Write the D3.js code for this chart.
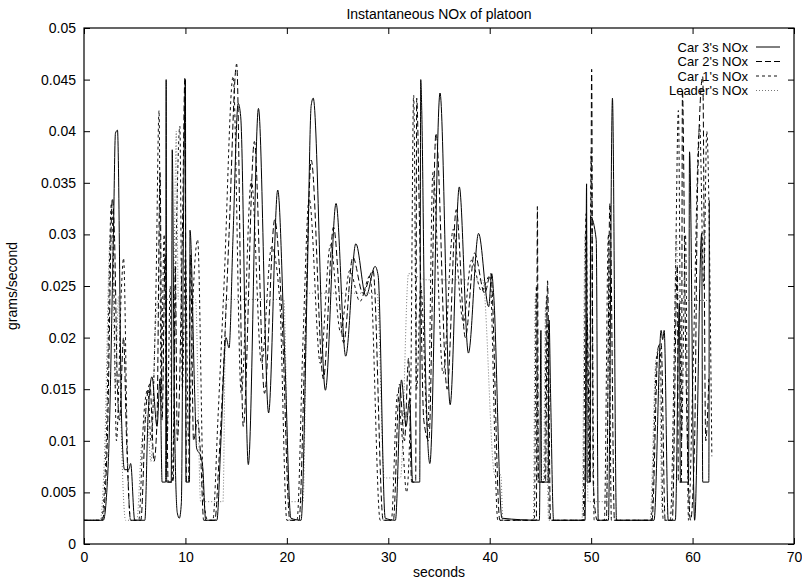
<!DOCTYPE html>
<html>
<head>
<meta charset="utf-8">
<script src="https://cdn.jsdelivr.net/npm/d3@7"></script>
<style>
  body { margin: 0; background: #fff; }
  svg { display: block; font-family: "Liberation Sans", Arial, sans-serif; }
  .tick-label { font-size: 14px; fill: #000; }
</style>
</head>
<body>
<div id="chart"></div>
<script>
const chartTitle = 'Instantaneous NOx of platoon';
const xTicks = [0, 10, 20, 30, 40, 50, 60, 70];
const yTicks = [0, 0.005, 0.01, 0.015, 0.02, 0.025, 0.03, 0.035, 0.04, 0.045, 0.05];

// [seconds, grams/second]
const car3 = [[0,0.0023],[1.9,0.0023],[2.4,0.008],[2.9,0.030],[3.1,0.0398],[3.3,0.0401],[3.7,0.0122],[4.0,0.0072],[4.4,0.0072],[4.6,0.0078],[5.0,0.0023],[6.0,0.0023],[6.3,0.012],[6.7,0.0162],[7.2,0.0114],[7.5,0.016],[7.7,0.006],[8.05,0.006],[8.1,0.045],[8.15,0.006],[8.6,0.006],[8.7,0.0382],[8.9,0.014],[9.2,0.003],[9.4,0.0025],[9.6,0.004],[9.8,0.030],[10.0,0.045],[10.05,0.006],[10.4,0.006],[10.45,0.0304],[10.9,0.015],[11.1,0.0093],[11.5,0.0085],[11.7,0.0075],[12.0,0.0023],[13.1,0.0023],[13.5,0.010],[14.0,0.020],[14.3,0.019],[14.7,0.030],[15.2,0.0427],[15.45,0.0414],[16.2,0.0077],[17.2,0.0422],[18.2,0.0127],[19.1,0.0343],[19.8,0.018],[20.4,0.0025],[21.4,0.0023],[22.0,0.025],[22.4,0.0425],[22.6,0.0432],[23.8,0.0149],[24.85,0.033],[25.8,0.0182],[26.8,0.0291],[27.8,0.024],[28.7,0.0269],[29.0,0.026],[29.7,0.0025],[30.7,0.0023],[31.3,0.0159],[31.75,0.0114],[32.1,0.014],[32.4,0.006],[33.1,0.006],[33.2,0.045],[33.3,0.042],[33.6,0.020],[34.1,0.0078],[35.1,0.0437],[36.1,0.0135],[37.0,0.0346],[37.9,0.0185],[38.9,0.0301],[39.9,0.023],[40.2,0.0262],[40.4,0.024],[41.2,0.0025],[44.9,0.0023],[45.05,0.0207],[45.1,0.006],[45.75,0.006],[45.85,0.0217],[46.0,0.0146],[46.3,0.0023],[49.4,0.0023],[49.55,0.0349],[49.6,0.006],[49.9,0.006],[49.95,0.0317],[50.5,0.0295],[50.7,0.0023],[51.7,0.0023],[52.1,0.0432],[52.5,0.0023],[56.2,0.0023],[56.9,0.0207],[57.05,0.0198],[57.2,0.0207],[57.6,0.0023],[58.3,0.0023],[58.7,0.0233],[58.8,0.006],[59.6,0.006],[59.7,0.038],[60.2,0.0023],[60.9,0.0301],[61.0,0.006],[61.6,0.006],[61.65,0.0333]];

const car2 = [[0,0.0023],[1.8,0.0023],[2.3,0.010],[2.8,0.0335],[3.0,0.030],[3.3,0.015],[3.5,0.012],[3.9,0.020],[4.2,0.010],[4.6,0.0023],[5.6,0.0023],[6.1,0.013],[6.5,0.0155],[6.9,0.008],[7.2,0.012],[7.5,0.036],[7.7,0.012],[8.0,0.028],[8.3,0.006],[8.8,0.006],[9.0,0.027],[9.2,0.010],[9.7,0.030],[9.95,0.0452],[10.1,0.006],[10.3,0.006],[10.5,0.028],[10.8,0.010],[11.2,0.012],[11.5,0.0085],[11.8,0.0023],[12.9,0.0023],[13.3,0.008],[13.8,0.018],[14.3,0.030],[15.05,0.0465],[15.7,0.0114],[16.8,0.039],[17.8,0.0146],[18.8,0.0314],[19.5,0.0224],[20.3,0.0023],[21.2,0.0023],[21.8,0.020],[22.4,0.0372],[23.6,0.016],[24.6,0.0307],[25.6,0.0195],[26.5,0.0278],[27.5,0.0243],[28.5,0.0265],[29.5,0.0023],[30.5,0.0023],[31.1,0.0155],[31.6,0.010],[32.0,0.018],[32.3,0.006],[32.7,0.006],[32.8,0.0432],[33.1,0.030],[33.5,0.012],[34.0,0.010],[34.7,0.0398],[35.8,0.015],[36.7,0.0324],[37.6,0.020],[38.5,0.0282],[39.5,0.0243],[40.1,0.0262],[41.0,0.0023],[44.6,0.0023],[44.7,0.0327],[44.8,0.006],[45.5,0.006],[45.7,0.0255],[46.0,0.0023],[49.3,0.0023],[49.6,0.022],[49.9,0.006],[50.05,0.046],[50.2,0.006],[50.6,0.0023],[51.5,0.0023],[51.85,0.033],[52.3,0.0023],[56.0,0.0023],[56.6,0.019],[56.9,0.0195],[57.3,0.0023],[58.0,0.0023],[58.5,0.027],[58.6,0.006],[58.9,0.006],[59.0,0.044],[59.3,0.020],[59.8,0.0023],[60.2,0.010],[60.5,0.035],[61.0,0.0453],[61.3,0.010],[61.6,0.016]];

const car1 = [[0,0.0023],[1.7,0.0023],[2.2,0.010],[2.7,0.033],[2.9,0.028],[3.2,0.010],[3.7,0.025],[3.9,0.0277],[4.3,0.008],[4.6,0.0023],[5.4,0.0023],[5.9,0.0125],[6.3,0.015],[6.6,0.010],[7.1,0.025],[7.4,0.042],[7.6,0.015],[7.9,0.030],[8.2,0.010],[8.5,0.025],[8.7,0.006],[9.1,0.030],[9.45,0.0405],[9.7,0.015],[10.0,0.028],[10.3,0.010],[10.8,0.025],[11.2,0.0295],[11.8,0.0045],[12.2,0.0023],[12.7,0.0023],[13.2,0.012],[13.8,0.025],[14.7,0.0453],[15.5,0.0146],[16.5,0.0353],[17.5,0.0175],[18.5,0.0288],[19.3,0.0235],[20.0,0.0023],[21.0,0.0023],[21.6,0.020],[22.2,0.0335],[23.3,0.0175],[24.3,0.029],[25.3,0.0205],[26.2,0.0265],[27.2,0.0235],[28.2,0.026],[29.2,0.0023],[30.3,0.0023],[30.9,0.0145],[31.4,0.010],[31.8,0.005],[32.2,0.014],[32.5,0.0435],[32.8,0.015],[33.2,0.025],[33.9,0.011],[34.4,0.036],[35.4,0.0165],[36.4,0.0305],[37.4,0.0215],[38.2,0.0275],[39.2,0.0245],[40.0,0.026],[40.8,0.0023],[44.4,0.0023],[44.6,0.025],[44.8,0.006],[45.4,0.006],[45.6,0.024],[45.9,0.0023],[49.2,0.0023],[49.5,0.032],[49.8,0.006],[50.0,0.038],[50.3,0.0023],[51.3,0.0023],[51.7,0.030],[52.0,0.0023],[55.9,0.0023],[56.5,0.0185],[56.8,0.019],[57.1,0.0023],[57.8,0.0023],[58.3,0.025],[58.6,0.042],[58.9,0.010],[59.3,0.030],[59.6,0.0023],[60.0,0.015],[60.7,0.0406],[61.1,0.025],[61.4,0.040],[61.9,0.0085]];

const leader = [[0,0.0023],[1.6,0.0023],[2.0,0.008],[2.6,0.030],[2.8,0.028],[3.1,0.015],[3.4,0.024],[3.7,0.010],[4.1,0.0023],[5.2,0.0023],[5.7,0.010],[6.2,0.0125],[6.6,0.008],[7.0,0.020],[7.3,0.0237],[8.8,0.0237],[9.1,0.040],[9.3,0.0237],[11.0,0.0237],[11.5,0.0041],[13.7,0.0041],[14.0,0.0237],[19.7,0.0237],[20.2,0.0041],[21.6,0.0041],[22.0,0.0243],[28.9,0.0243],[29.6,0.0064],[31.2,0.0064],[32.0,0.0262],[33.8,0.0256],[39.3,0.0256],[40.5,0.0067],[41.1,0.0067],[41.3,0.0023],[44.3,0.0023],[44.5,0.024],[44.7,0.006],[45.3,0.006],[45.5,0.023],[45.8,0.0023],[49.1,0.0023],[49.4,0.030],[49.7,0.0041],[51.5,0.0041],[51.8,0.028],[52.0,0.0023],[55.8,0.0023],[56.4,0.018],[56.7,0.0185],[57.0,0.0030],[58.0,0.0030],[58.4,0.030],[58.6,0.0236],[61.7,0.0236]];

const seriesList = [
    { name: "Car 3's NOx", data: car3, dash: null, color: '#000' },
    { name: "Car 2's NOx", data: car2, dash: '6,3', color: '#000' },
    { name: "Car 1's NOx", data: car1, dash: '3,3', color: '#111' },
    { name: "Leader's NOx", data: leader, dash: '1,2', color: '#777' }
];

const width = 802,
    height = 580;
const margin = { left: 84, right: 8, top: 28, bottom: 36 };

function drawChart() {
    const svg = d3.select('#chart').append('svg')
        .attr('width', width)
        .attr('height', height);

    const x = d3.scaleLinear().domain([0, 70]).range([margin.left, width - margin.right]);
    const y = d3.scaleLinear().domain([0, 0.05]).range([height - margin.bottom, margin.top]);

    // series lines, smoothed between the read points
    const line = d3.line()
        .curve(d3.curveMonotoneX)
        .x(d => x(d[0]))
        .y(d => y(d[1]));

    const lines = svg.append('g').attr('id', 'lines');
    seriesList.slice().reverse().forEach(s => {
        lines.append('path')
            .datum(s.data)
            .attr('d', line)
            .attr('fill', 'none')
            .attr('stroke', s.color)
            .attr('stroke-width', 1)
            .attr('stroke-dasharray', s.dash);
    });

    // axes with inward ticks, mirrored like gnuplot
    const tickLen = 6;
    svg.append('g')
        .attr('transform', 'translate(0,' + y(0) + ')')
        .call(d3.axisBottom(x).tickValues(xTicks).tickSize(-tickLen).tickPadding(8).tickFormat(d3.format('d')))
        .call(g => g.select('.domain').remove());
    svg.append('g')
        .attr('transform', 'translate(0,' + y(0.05) + ')')
        .call(d3.axisTop(x).tickValues(xTicks).tickSize(-tickLen).tickFormat(''))
        .call(g => g.select('.domain').remove());
    svg.append('g')
        .attr('transform', 'translate(' + x(0) + ',0)')
        .call(d3.axisLeft(y).tickValues(yTicks).tickSize(-tickLen).tickPadding(8).tickFormat(d => d3.format('~g')(+d.toFixed(3))))
        .call(g => g.select('.domain').remove());
    svg.append('g')
        .attr('transform', 'translate(' + x(70) + ',0)')
        .call(d3.axisRight(y).tickValues(yTicks).tickSize(-tickLen).tickFormat(''))
        .call(g => g.select('.domain').remove());

    svg.selectAll('.tick text')
        .attr('class', 'tick-label')
        .attr('font-family', null)
        .attr('font-size', null);
    svg.selectAll('.tick line').attr('stroke', '#000');

    svg.append('rect')
        .attr('x', x(0))
        .attr('y', y(0.05))
        .attr('width', x(70) - x(0))
        .attr('height', y(0) - y(0.05))
        .attr('fill', 'none')
        .attr('stroke', '#000')
        .attr('stroke-width', 1.2);

    // titles
    svg.append('text')
        .attr('x', (x(0) + x(70)) / 2)
        .attr('y', 19)
        .attr('text-anchor', 'middle')
        .attr('font-size', 14)
        .text(chartTitle);
    svg.append('text')
        .attr('x', (x(0) + x(70)) / 2)
        .attr('y', 577)
        .attr('text-anchor', 'middle')
        .attr('font-size', 14)
        .text('seconds');
    svg.append('text')
        .attr('transform', 'translate(17,' + ((y(0) + y(0.05)) / 2) + ') rotate(-90)')
        .attr('text-anchor', 'middle')
        .attr('font-size', 14)
        .text('grams/second');

    // legend, top right
    const legend = svg.append('g').attr('id', 'legend');
    seriesList.forEach((s, i) => {
        const ly = 47 + i * 14.5;
        legend.append('text')
            .attr('x', 748)
            .attr('y', ly)
            .attr('dy', '0.35em')
            .attr('text-anchor', 'end')
            .attr('font-size', 13)
            .text(s.name);
        legend.append('line')
            .attr('x1', 756).attr('x2', 780)
            .attr('y1', ly).attr('y2', ly)
            .attr('stroke', s.color)
            .attr('stroke-width', 1)
            .attr('stroke-dasharray', s.dash);
    });
} // drawChart

drawChart();
</script>
</body>
</html>
